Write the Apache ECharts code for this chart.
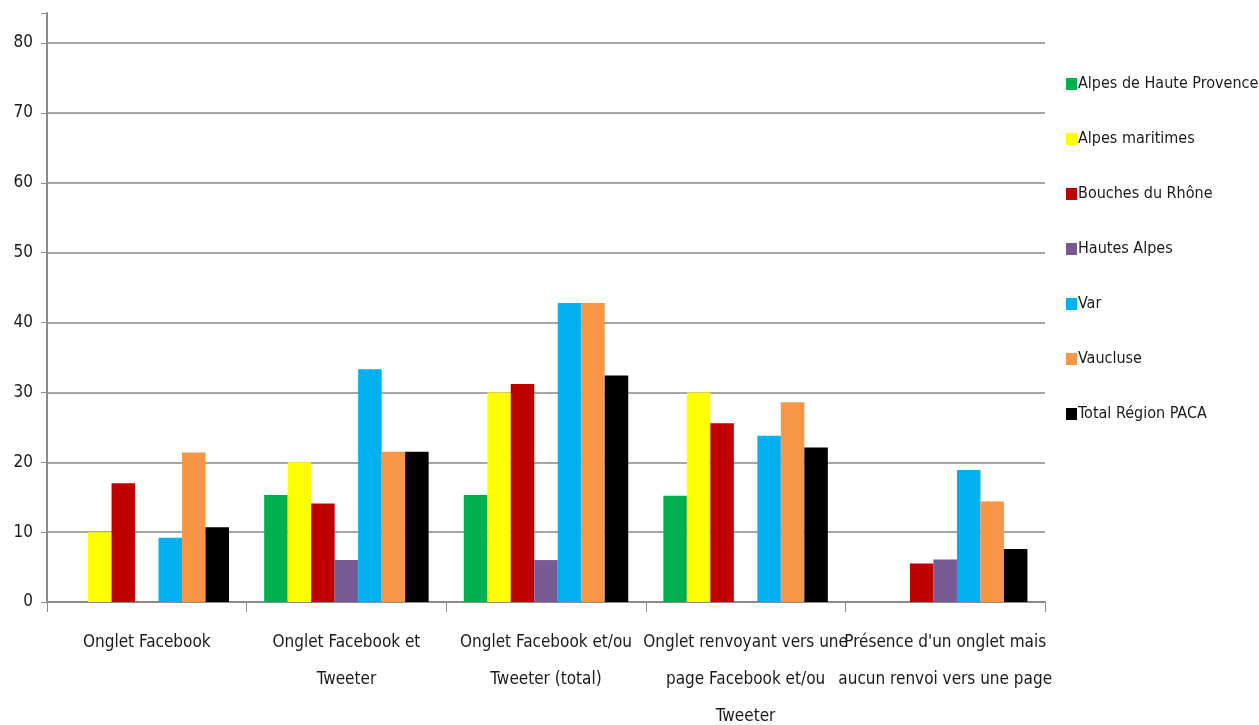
<!DOCTYPE html>
<html><head><meta charset="utf-8">
<script src="https://cdn.jsdelivr.net/npm/echarts@6/dist/echarts.min.js"></script>
<style>html,body{margin:0;padding:0;background:#fff}#c{width:1259px;height:725px}</style>
</head><body><div id="c"></div>
<script>
const categories = [
  "Onglet Facebook",
  "Onglet Facebook et\nTweeter",
  "Onglet Facebook et/ou\nTweeter (total)",
  "Onglet renvoyant vers une\npage Facebook et/ou\nTweeter",
  "Présence d'un onglet mais\naucun renvoi vers une page"
];
const seriesNames = ["Alpes de Haute Provence","Alpes maritimes","Bouches du Rhône","Hautes Alpes","Var","Vaucluse","Total Région PACA"];
const alpesHauteProvence = [0, 15.3, 15.3, 15.2, 0];
const alpesMaritimes     = [10.0, 20.0, 30.0, 30.0, 0];
const bouchesDuRhone     = [17.0, 14.1, 31.2, 25.6, 5.5];
const hautesAlpes        = [0, 6.0, 6.0, 0, 6.1];
const varDept            = [9.2, 33.3, 42.8, 23.8, 18.9];
const vaucluse           = [21.4, 21.5, 42.8, 28.6, 14.4];
const totalPACA          = [10.7, 21.5, 32.4, 22.1, 7.6];
const yTicks = [0,10,20,30,40,50,60,70,80];

const colors = ["#00B050","#FFFF00","#C00000","#765A91","#00B0F0","#F79646","#000000"];
const values = [alpesHauteProvence, alpesMaritimes, bouchesDuRhone, hautesAlpes, varDept, vaucluse, totalPACA];
const font = "'Liberation Sans Narrow','DejaVu Sans Condensed','Open Sans',sans-serif";

const chart = echarts.init(document.getElementById('c'));
chart.setOption({
  animation: false,
  color: colors,
  textStyle: {fontFamily: font},
  grid: {left: 47, right: 214, top: 13, bottom: 123, containLabel: false, outerBoundsMode: 'none'},
  legend: {
    orient: 'vertical', left: 1061, top: 71,
    itemWidth: 11, itemHeight: 12, itemGap: 39,
    icon: 'rect',
    textStyle: {fontSize: 16, color: '#1a1a1a', fontFamily: font, padding: [0,0,0,-4]},
    data: seriesNames
  },
  xAxis: {
    type: 'category', data: categories,
    axisLine: {lineStyle: {color: '#8c8c8c', width: 2}},
    axisTick: {show: true, length: 10, lineStyle: {color: '#8c8c8c', width: 1}},
    axisLabel: {interval: 0, margin: 22, fontSize: 17, lineHeight: 37, color: '#1a1a1a', fontFamily: font}
  },
  yAxis: {
    type: 'value', min: 0, max: 84.3, interval: 10,
    axisLine: {show: true, lineStyle: {color: '#8c8c8c', width: 2}},
    axisTick: {show: true, length: 6, lineStyle: {color: '#8c8c8c'}},
    axisLabel: {fontSize: 17, color: '#1a1a1a', margin: 14, fontFamily: font,
      formatter: v => yTicks.indexOf(v) >= 0 ? String(v) : ''},
    splitLine: {show: true, showMaxLine: false, lineStyle: {color: '#a6a6a6', width: 2}}
  },
  series: seriesNames.map((n, i) => ({
    name: n, type: 'bar', data: values[i],
    barGap: '0%', barCategoryGap: '17.6%'
  }))
});
</script></body></html>
